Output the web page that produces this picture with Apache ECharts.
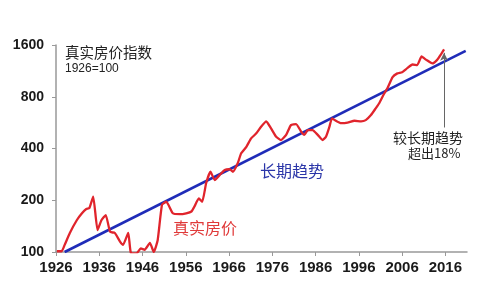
<!DOCTYPE html>
<html>
<head>
<meta charset="utf-8">
<script src="https://cdn.jsdelivr.net/npm/echarts@6/dist/echarts.min.js"></script>
<style>
  html, body { margin: 0; padding: 0; background: #fff; }
  #chart { width: 499px; height: 287px; }
</style>
</head>
<body>
<div id="chart"></div>
<script>
// 真实房价指数 (1926=100)
const priceYears = [
  1926.2, 1927.3, 1928, 1929.2, 1930.8, 1932, 1933, 1933.7, 1934.6, 1935.6,
  1936.5, 1937.5, 1938.5, 1939.6, 1940.8, 1941.5, 1942.7, 1943.3, 1944.6, 1945.6,
  1946.5, 1947.7, 1948.6, 1949.5, 1950.5, 1951.5, 1953, 1954.6, 1956.1, 1957.3,
  1958, 1959, 1959.8, 1960.7, 1961.7, 1962.7, 1963.8, 1965, 1966.1, 1966.9,
  1968, 1968.8, 1970, 1971.1, 1972.3, 1973.4, 1974.6, 1975.7, 1976.9, 1978,
  1979.2, 1980.3, 1981.5, 1982.7, 1983.4, 1984.2, 1985.3, 1986.5, 1987.6, 1988.4,
  1989.2, 1989.8, 1990.7, 1991.9, 1993.4, 1995, 1996.5, 1997.6, 1998.8, 1999.9,
  2000.7, 2001.8, 2002.6, 2003.8, 2004.9, 2006, 2007.2, 2008.4, 2009.5, 2010.5,
  2011.6, 2013, 2014.1, 2014.9, 2015.7
];
const priceValues = [
  101, 101, 110, 129, 153, 168, 178, 180, 210, 134,
  153, 164, 131, 129, 115, 110, 129, 99, 98, 105,
  103, 113, 100, 117, 188, 196, 168, 166, 168, 172,
  184, 205, 196, 251, 293, 262, 280, 300, 303, 293,
  328, 375, 409, 458, 490, 535, 575, 524, 468, 448,
  480, 547, 555, 500, 480, 512, 512, 480, 448, 468,
  535, 599, 580, 562, 566, 580, 575, 585, 626, 685,
  733, 830, 896, 1042, 1094, 1112, 1173, 1232, 1222, 1372,
  1311, 1250, 1311, 1400, 1510
];

// 长期趋势 end points
const trendYears = [1928, 2020.7];
const trendValues = [100, 1480];

// arrow for 较长期趋势超出18%
const arrowYear = 2015.7;
const arrowFrom = 530;
const arrowTo = 1440;

const xTicks = [1926, 1936, 1946, 1956, 1966, 1976, 1986, 1996, 2006, 2016];
const yTicks = [100, 200, 400, 800, 1600];

const myChart = echarts.init(document.getElementById('chart'));

const labelFont = 'Liberation Sans, Arial, sans-serif';
const cjkFont = 'Noto Sans CJK SC, sans-serif';

const option = {
  animation: false,
  backgroundColor: '#fff',
  grid: { left: 56, right: 32, top: 45, bottom: 35 },
  xAxis: {
    type: 'value',
    min: 1926,
    max: 2021,
    axisLine: { lineStyle: { color: '#999', width: 1.5 } },
    axisTick: { show: true, inside: false, length: 4, customValues: xTicks, lineStyle: { color: '#999' } },
    axisLabel: {
      customValues: xTicks,
      formatter: (v) => String(Math.round(v)),
      margin: 8,
      color: '#1a1a1a',
      fontSize: 15,
      fontWeight: 'bold',
      fontFamily: labelFont
    },
    splitLine: { show: false }
  },
  yAxis: {
    type: 'log',
    logBase: 2,
    min: 100,
    max: 1600,
    axisLine: { show: true, lineStyle: { color: '#999', width: 1.5 } },
    axisTick: { show: true, length: 4, customValues: yTicks, lineStyle: { color: '#999' } },
    axisLabel: {
      customValues: yTicks,
      formatter: (v) => String(Math.round(v)),
      margin: 12,
      color: '#1a1a1a',
      fontSize: 14,
      fontWeight: 'bold',
      fontFamily: labelFont
    },
    splitLine: { show: false }
  },
  series: [
    {
      name: '长期趋势',
      type: 'line',
      data: trendYears.map((y, i) => [y, trendValues[i]]),
      showSymbol: false,
      lineStyle: { color: '#1f2cb8', width: 2.6 },
      z: 2
    },
    {
      name: '真实房价',
      type: 'line',
      data: priceYears.map((y, i) => [y, priceValues[i]]),
      showSymbol: false,
      smooth: 0.15,
      lineStyle: { color: '#e0242c', width: 2.3 },
      z: 3,
      markLine: {
        silent: true,
        symbol: ['none', 'arrow'],
        symbolSize: [6, 8],
        label: { show: false },
        lineStyle: { color: '#666', width: 1, type: 'solid' },
        data: [[{ coord: [arrowYear, arrowFrom] }, { coord: [arrowYear, arrowTo] }]]
      }
    }
  ],
  graphic: [
    {
      type: 'text', left: 65, top: 45,
      style: { text: '真实房价指数', fontSize: 14.5, fontFamily: cjkFont, fill: '#222' }
    },
    {
      type: 'text', left: 65, top: 63,
      style: { text: '1926=100', fontSize: 12, fontFamily: labelFont, fill: '#222' }
    },
    {
      type: 'text', left: 173, top: 220,
      style: { text: '真实房价', fontSize: 16, fontFamily: cjkFont, fill: '#e03a3a' }
    },
    {
      type: 'text', left: 260, top: 163,
      style: { text: '长期趋势', fontSize: 16, fontFamily: cjkFont, fill: '#2a35a8' }
    },
    {
      type: 'text', left: 393, top: 131,
      style: { text: '较长期趋势', fontSize: 14, fontFamily: cjkFont, fill: '#222' }
    },
    {
      type: 'text', left: 408, top: 147,
      style: { text: '超出18%', fontSize: 13, fontFamily: cjkFont, fill: '#222' }
    }
  ]
};

myChart.setOption(option);
</script>
</body>
</html>
